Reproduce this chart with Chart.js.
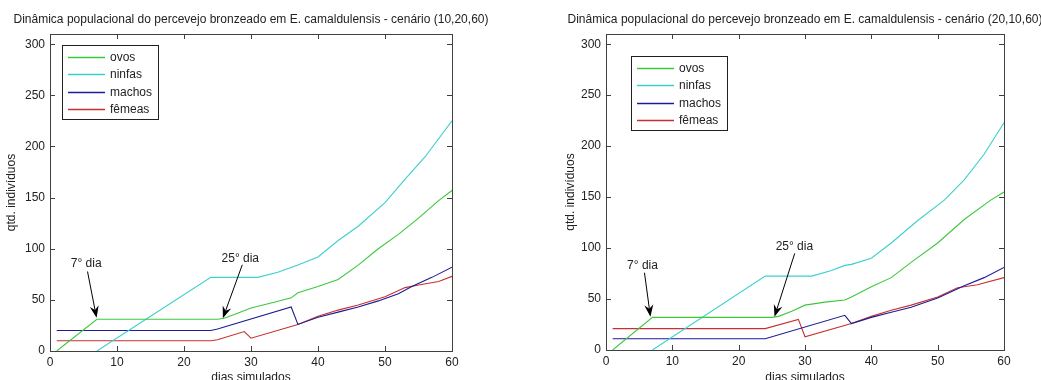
<!DOCTYPE html>
<html><head><meta charset="utf-8">
<script src="https://cdn.jsdelivr.net/npm/chart.js@4.4.1/dist/chart.umd.min.js"></script>
<style>
html,body{margin:0;padding:0;background:#fff;overflow:hidden}
canvas{position:absolute;top:0}
#c1{left:0}
#c2{left:520px}
</style></head><body>
<canvas id="c1" width="520" height="380"></canvas>
<canvas id="c2" width="521" height="380"></canvas>
<script>
// ---- tick labels ----
const xTicks = [0, 10, 20, 30, 40, 50, 60];
const yTicks = [0, 50, 100, 150, 200, 250, 300];
const seriesNames = ['ovos', 'ninfas', 'machos', 'fêmeas'];
const seriesColors = ['#3cc83c', '#3ccfcf', '#1c1c96', '#c83030'];

// ---- cenário (10,20,60) ----
const ovosDaysA   = [1, 7, 25, 26, 28, 30, 33, 36, 37, 40, 43, 46, 49, 52, 55, 58, 60];
const ovosValsA   = [0, 31, 31, 32, 37, 42, 47, 52, 57, 63, 70, 84, 100, 114, 130, 147, 157];
const ninfasDaysA = [7, 24, 31, 34, 37, 40, 43, 46, 50, 53, 56, 60];
const ninfasValsA = [0, 72, 72, 77, 84, 92, 108, 122, 145, 168, 190, 225];
const machosDaysA = [1, 24, 25, 36, 37, 40, 43, 46, 49, 52, 54, 57, 60];
const machosValsA = [20, 20, 21.5, 43, 26, 33, 38, 43, 49, 56, 63, 72, 82];
const femeasDaysA = [1, 24, 25, 29, 30, 37, 40, 43, 46, 50, 53, 55, 58, 60];
const femeasValsA = [10, 10, 11, 19, 12.5, 26, 34, 40, 45, 53, 62, 64.5, 68, 73];

// ---- cenário (20,10,60) ----
const ovosDaysB   = [1, 7, 25, 26, 28, 30, 33, 36, 37, 40, 43, 46, 50, 54, 58, 60];
const ovosValsB   = [0, 32, 32, 33, 38, 44, 47, 49, 52, 62, 71, 86, 105, 128, 147, 155];
const ninfasDaysB = [7, 24, 31, 34, 36, 37, 40, 43, 47, 51, 54, 57, 60];
const ninfasValsB = [0, 72.5, 72.5, 78, 83, 84, 90, 105, 127, 147, 167, 192, 223];
const machosDaysB = [1, 24, 36, 37, 40, 43, 46, 50, 54, 57, 60];
const machosValsB = [11, 11, 34, 26, 32, 37, 42, 51, 63, 71, 81];
const femeasDaysB = [1, 24, 29, 30, 37, 40, 43, 46, 50, 53, 56, 60];
const femeasValsB = [21, 21, 30, 13, 26, 33, 39, 44, 52, 61, 64, 71];

const FONT = '"Liberation Sans", Arial, Helvetica, sans-serif';
const TXT = '#222';
const AXC = '#404040';

function arrow(ctx, x1, y1, x2, y2) {
  const ang = Math.atan2(y2 - y1, x2 - x1);
  const L = 12, W = 4.5, N = 8;
  const c = Math.cos(ang), s = Math.sin(ang);
  const bx = x2 - L * c, by = y2 - L * s;
  const nx = x2 - N * c, ny = y2 - N * s;
  ctx.beginPath();
  ctx.moveTo(x1, y1); ctx.lineTo(nx, ny);
  ctx.strokeStyle = '#000'; ctx.lineWidth = 1; ctx.stroke();
  ctx.beginPath();
  ctx.moveTo(x2, y2);
  ctx.lineTo(bx + W * s, by - W * c);
  ctx.lineTo(nx, ny);
  ctx.lineTo(bx - W * s, by + W * c);
  ctx.closePath(); ctx.fillStyle = '#000'; ctx.fill();
}

const decor = {
  id: 'decor',
  afterDraw(chart) {
    const o = chart.options.plugins.decor;
    const ctx = chart.ctx, a = chart.chartArea;
    const xs = chart.scales.x, ys = chart.scales.y;
    ctx.save();
    // box
    ctx.strokeStyle = AXC; ctx.lineWidth = 1;
    ctx.strokeRect(Math.round(a.left) + 0.5, Math.round(a.top) + 0.5, Math.round(a.right - a.left), Math.round(a.bottom - a.top));
    // inward ticks
    ctx.beginPath();
    xTicks.forEach(v => {
      const px = Math.round(xs.getPixelForValue(v)) + 0.5;
      ctx.moveTo(px, a.bottom); ctx.lineTo(px, a.bottom - 5);
      ctx.moveTo(px, a.top); ctx.lineTo(px, a.top + 5);
    });
    yTicks.forEach(v => {
      const py = Math.round(ys.getPixelForValue(v)) + 0.5;
      ctx.moveTo(a.left, py); ctx.lineTo(a.left + 5, py);
      ctx.moveTo(a.right, py); ctx.lineTo(a.right - 5, py);
    });
    ctx.stroke();
    const cx = (a.left + a.right) / 2, cy = (a.top + a.bottom) / 2;
    ctx.fillStyle = TXT;
    ctx.font = '12px ' + FONT;
    ctx.textAlign = 'center';
    ctx.textBaseline = 'middle';
    ctx.fillText(o.title, cx, 20);
    ctx.textBaseline = 'alphabetic';
    ctx.fillText('dias simulados', cx, 381);
    ctx.textBaseline = 'middle';
    ctx.save();
    ctx.translate(o.ylabelX, cy); ctx.rotate(-Math.PI / 2);
    ctx.fillText('qtd. indivíduos', 0, 0);
    ctx.restore();
    // legend
    const L = o.legend;
    ctx.fillStyle = '#fff';
    ctx.fillRect(L.x, L.y, L.w, L.h);
    ctx.strokeStyle = '#202020'; ctx.lineWidth = 1;
    ctx.strokeRect(L.x + 0.5, L.y + 0.5, L.w, L.h);
    chart.data.datasets.forEach((ds, i) => {
      const yy = Math.round(L.y + 11.5 + i * 17.6) + 0.5;
      ctx.beginPath(); ctx.moveTo(L.x + 6, yy); ctx.lineTo(L.x + 43, yy);
      ctx.strokeStyle = ds.borderColor; ctx.lineWidth = 1.4; ctx.stroke();
      ctx.fillStyle = TXT; ctx.textAlign = 'left';
      ctx.fillText(ds.label, L.x + 48, yy);
    });
    // annotations
    ctx.textAlign = 'center';
    o.notes.forEach(n => {
      ctx.fillStyle = TXT;
      ctx.fillText(n.text, xs.getPixelForValue(n.tx), ys.getPixelForValue(n.ty));
      arrow(ctx, xs.getPixelForValue(n.ax1), ys.getPixelForValue(n.ay1), xs.getPixelForValue(n.ax2), ys.getPixelForValue(n.ay2));
    });
    ctx.restore();
  }
};

function makeChart(id, series, cfg) {
  return new Chart(document.getElementById(id), {
    type: 'line',
    data: {
      datasets: series.map((s, i) => ({
        label: seriesNames[i],
        data: s[0].map((d, j) => ({ x: d, y: s[1][j] })),
        borderColor: seriesColors[i], borderWidth: 1.1,
        pointRadius: 0, tension: 0, fill: false
      }))
    },
    options: {
      responsive: false, animation: false, events: [],
      layout: { padding: { left: cfg.padL, right: cfg.padR, top: 34, bottom: 0 } },
      plugins: { legend: { display: false }, tooltip: { enabled: false }, title: { display: false }, decor: cfg.decor },
      scales: {
        x: {
          type: 'linear', min: 0, max: 60,
          afterBuildTicks: s => { s.ticks = xTicks.map(v => ({ value: v })); },
          afterFit: s => { s.height = cfg.xH; },
          grid: { display: false, drawTicks: false }, border: { display: false },
          ticks: { color: TXT, font: { family: FONT, size: 12 }, padding: 4, maxRotation: 0, autoSkip: false }
        },
        y: {
          type: 'linear', min: 0, max: 310,
          afterBuildTicks: s => { s.ticks = yTicks.map(v => ({ value: v })); },
          afterFit: s => { s.width = 50; },
          grid: { display: false, drawTicks: false }, border: { display: false },
          ticks: { color: TXT, font: { family: FONT, size: 12 }, padding: 5, autoSkip: false }
        }
      }
    },
    plugins: [decor]
  });
}

makeChart('c1', [[ovosDaysA, ovosValsA], [ninfasDaysA, ninfasValsA], [machosDaysA, machosValsA], [femeasDaysA, femeasValsA]], {
  padL: 0, padR: 68, xH: 29,
  decor: {
    title: 'Dinâmica populacional do percevejo bronzeado em E. camaldulensis - cenário (10,20,60)',
    ylabelX: 12,
    legend: { x: 62, y: 45, w: 96, h: 74 },
    notes: [
      { text: '7° dia', tx: 5.4, ty: 85, ax1: 5.6, ay1: 77.7, ax2: 6.95, ay2: 32.4 },
      { text: '25° dia', tx: 28.4, ty: 90, ax1: 28.7, ay1: 84.3, ax2: 25.8, ay2: 32 }
    ]
  }
});

makeChart('c2', [[ovosDaysB, ovosValsB], [ninfasDaysB, ninfasValsB], [machosDaysB, machosValsB], [femeasDaysB, femeasValsB]], {
  padL: 36, padR: 37, xH: 30,
  decor: {
    title: 'Dinâmica populacional do percevejo bronzeado em E. camaldulensis - cenário (20,10,60)',
    ylabelX: 51,
    legend: { x: 111, y: 56, w: 96, h: 74 },
    notes: [
      { text: '7° dia', tx: 5.5, ty: 83, ax1: 5.8, ay1: 75.8, ax2: 6.7, ay2: 32.6 },
      { text: '25° dia', tx: 28.4, ty: 101, ax1: 28.45, ay1: 94.8, ax2: 25.4, ay2: 32.6 }
    ]
  }
});
</script>
</body></html>
